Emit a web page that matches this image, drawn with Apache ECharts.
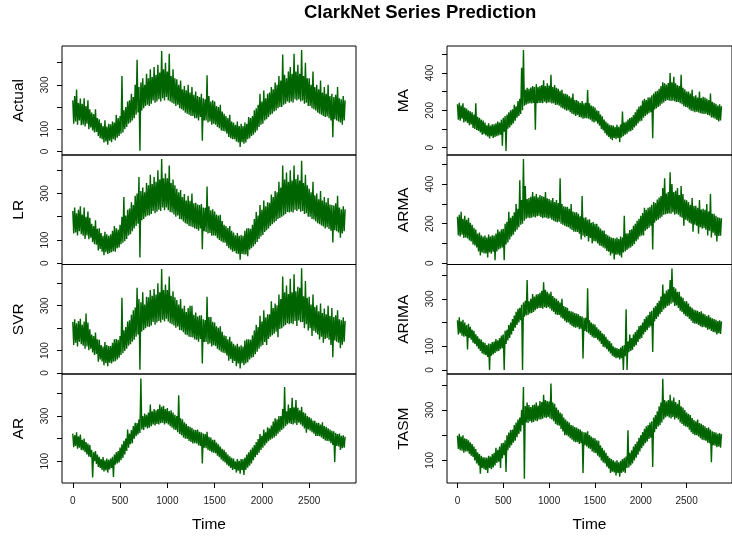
<!DOCTYPE html>
<html>
<head>
<meta charset="utf-8">
<script src="https://cdn.jsdelivr.net/npm/echarts@6/dist/echarts.min.js"></script>
<style>html,body{margin:0;padding:0;background:#fff}#c{width:732px;height:537px}</style>
</head>
<body>
<div id="c"></div>
<script>
// sampling step of the time axis (time units between consecutive values)
const STEP = 10;

const actual = [
230,125,250,135,279,120,218,140,238,118, 215,120,240,112,205,125,230,100,190,108,
175,95,168,85,190,88,150,70,145,60, 128,55,115,40,140,45,112,30,125,48,
122,42,135,55,130,50,165,62,150,70, 160,80,340,85,185,100,200,110,225,125,
230,130,260,140,245,150,300,165,413,175, 290,3,310,185,330,195,300,205,350,210,
330,205,370,215,335,230,380,220,345,225, 390,235,355,225,452,240,370,230,400,245,
360,230,440,225,340,220,370,215,330,205, 325,210,300,195,320,190,280,185,295,175,
275,170,300,165,265,160,290,160,255,150, 270,150,250,140,245,155,260,48,240,140,
235,140,343,130,250,135,225,120,230,125, 225,120,205,110,200,105,210,95,180,92,
170,90,160,80,150,65,165,60,135,55, 130,55,120,45,135,40,115,20,125,42,
115,35,130,40,125,55,155,60,150,70, 160,75,185,85,195,95,210,110,260,120,
225,125,275,140,240,145,260,155,265,165, 290,170,280,180,310,185,300,195,340,200,
320,200,437,210,345,215,330,225,360,220, 380,225,350,220,440,235,360,230,390,235,
350,225,457,230,340,215,400,220,330,205, 330,205,300,195,360,190,290,185,300,175,
280,170,320,165,265,160,290,155,260,158, 300,150,250,140,260,64,245,145,255,140,
290,135,240,130,235,120,250,140,230
];
const lr = [
225,128,240,132,215,120,230,138,245,125, 210,118,240,105,200,120,222,104,195,110,
170,92,160,82,185,80,148,55,150,62, 130,50,118,35,135,48,125,40,118,45,
125,48,140,52,160,50,150,65,145,68, 165,82,200,88,285,95,205,105,230,120,
235,125,262,138,250,150,290,160,300,170, 370,25,310,185,325,190,305,200,345,205,
335,205,380,212,340,225,370,215,350,222, 400,230,360,225,448,240,365,228,385,240,
365,228,420,220,345,218,360,210,335,200, 320,205,305,190,315,188,285,180,298,172,
270,168,290,160,268,158,300,155,258,150, 260,148,252,140,250,150,255,60,240,138,
238,135,330,128,245,130,228,118,232,120, 222,118,210,108,205,100,208,95,182,90,
165,88,160,75,152,65,160,58,140,50, 132,52,120,42,130,40,118,15,122,40,
118,38,140,38,150,30,150,58,148,65, 165,72,190,82,220,92,205,105,250,115,
230,122,270,135,245,142,262,150,260,160, 295,168,285,175,310,182,305,190,350,195,
325,200,420,205,360,212,390,220,350,218, 400,222,355,218,420,230,362,225,380,232,
355,222,440,225,345,212,380,215,335,200, 320,200,305,190,350,188,292,180,300,172,
275,168,310,162,270,158,285,150,262,155, 280,148,252,140,250,90,248,142,258,138,
290,132,240,110,232,128,245,138,232
];
const svr = [
228,125,240,135,222,118,232,140,242,128, 215,122,230,108,265,118,225,102,195,108,
172,92,165,80,180,85,150,50,148,60, 125,52,118,35,138,44,125,30,120,46,
120,42,135,50,150,52,152,60,148,68, 165,80,336,88,190,98,205,108,230,122,
235,128,260,140,280,148,292,162,380,172, 330,14,315,185,360,192,305,200,340,208,
338,205,370,212,345,228,375,215,350,225, 400,232,360,225,464,238,370,230,395,242,
370,230,430,222,345,218,365,212,338,202, 325,208,305,192,330,190,288,182,300,172,
272,168,290,162,300,160,300,158,260,150, 270,148,252,140,256,152,258,42,240,138,
236,138,340,128,250,132,250,118,228,124, 225,120,208,108,202,102,208,95,184,90,
168,88,165,78,150,55,162,62,140,45, 130,54,122,30,130,42,118,20,124,44,
118,35,145,42,150,48,150,60,148,68, 168,72,190,84,215,95,205,108,255,118,
230,125,280,138,248,125,262,152,262,162, 320,168,290,175,310,184,302,160,350,196,
330,200,430,208,360,214,390,222,352,218, 420,222,360,218,440,232,365,210,385,234,
380,226,467,228,342,200,410,218,335,190, 340,200,305,165,350,188,295,180,302,172,
275,150,310,162,268,135,288,152,262,156, 300,148,255,125,290,70,250,145,258,140,
280,135,240,110,235,126,248,140,232
];
const ar = [
222,162,215,168,228,155,210,160,218,150, 195,148,200,140,185,130,178,120,172,118,
150,28,140,100,145,88,130,75,120,70, 110,62,118,55,104,60,112,50,106,64,
112,70,120,31,130,85,140,90,145,95, 160,105,175,115,190,130,200,145,240,160,
222,175,238,180,255,200,270,210,268,218, 285,225,465,240,300,238,310,250,305,245,
315,248,350,255,320,262,330,258,325,265, 330,262,350,268,340,270,345,262,330,268,
335,262,322,255,325,248,315,240,305,238, 300,228,391,220,290,215,285,205,272,200,
265,198,255,190,252,185,248,178,240,180, 238,178,240,170,230,168,228,90,222,160,
220,158,230,150,208,145,205,140,195,138, 195,135,182,125,175,118,165,108,155,100,
150,95,140,85,130,78,122,70,115,62, 112,65,100,50,110,58,102,45,110,60,
110,40,116,62,130,72,140,80,150,90, 160,105,172,118,185,128,198,138,220,150,
212,160,240,170,228,180,250,188,245,195, 258,200,275,205,290,212,285,222,300,230,
300,238,330,245,428,255,320,262,350,268, 335,265,380,262,338,268,370,260,336,270,
325,262,340,255,316,245,312,226,300,240, 295,235,290,228,280,222,278,212,270,212,
270,210,262,205,272,198,255,192,252,190, 245,188,240,180,234,172,232,97,225,168,
220,165,222,150,212,158,215,160,208
];
const ma = [
232,150,240,145,225,155,238,135,215,140, 210,132,200,120,195,125,190,105,178,100,
237,95,165,90,160,82,150,70,145,72, 135,65,120,60,130,50,118,62,125,52,
125,58,130,62,140,65,135,70,150,10, 160,85,170,-17,178,102,190,108,200,120,
205,130,230,145,222,160,250,170,262,180, 428,200,522,225,310,230,320,235,315,238,
322,236,330,240,324,96,340,238,325,240, 330,240,335,238,360,246,330,238,345,242,
332,242,390,236,325,238,335,228,320,230, 315,225,305,215,310,210,290,205,288,198,
285,200,275,190,268,182,290,178,255,170, 255,175,248,165,240,162,250,155,238,158,
240,158,308,155,238,150,225,140,222,135, 215,140,200,128,196,118,178,100,168,92,
150,78,140,65,130,58,122,48,120,40, 118,52,110,46,122,52,112,30,124,55,
193,62,135,70,140,75,150,85,158,88, 162,95,175,108,190,118,205,130,220,140,
225,145,252,160,262,170,255,178,268,185, 270,190,280,51,290,205,300,210,305,218,
315,225,330,235,350,242,345,250,338,255, 346,252,400,250,350,252,380,248,344,245,
335,245,330,238,390,232,320,222,312,218, 300,215,300,205,290,198,310,195,275,190,
280,192,268,188,300,185,266,182,272,180, 268,182,262,175,255,172,290,162,245,160,
240,155,235,148,225,140,232,146,222
];
const arma = [
235,140,245,135,260,145,225,128,240,130, 220,125,230,115,205,110,195,95,180,90,
170,80,150,60,155,40,142,55,135,50, 140,50,130,30,145,55,135,48,142,58,
140,15,150,60,170,70,160,75,172,80, 175,15,200,95,210,105,260,120,230,135,
240,145,258,160,300,170,275,182,420,195, 320,200,527,215,390,225,325,230,330,228,
336,230,360,235,338,232,350,238,334,240, 345,234,340,228,336,232,360,230,328,225,
325,228,318,220,330,215,310,210,320,208, 305,210,430,200,300,195,288,190,285,185,
285,182,275,175,300,168,262,160,258,160, 258,158,250,150,238,120,340,140,230,132,
232,138,220,110,222,128,205,100,208,112, 200,110,200,100,186,90,175,88,165,80,
165,75,148,62,142,58,135,40,130,50, 128,20,125,44,130,45,122,40,135,30,
130,55,240,60,150,68,152,75,168,80, 172,88,190,98,200,112,215,120,225,135,
240,140,254,140,280,165,270,172,280,180, 285,190,296,70,310,205,305,215,322,220,
332,228,340,235,380,245,430,248,352,250, 360,252,460,250,400,258,360,245,366,250,
380,245,345,235,390,230,350,190,322,220, 318,215,310,205,296,200,330,160,290,195,
290,190,280,150,320,182,272,175,275,178, 270,170,300,140,262,165,350,130,250,155,
250,140,240,110,232,138,230,140,228
];
const arima = [
210,150,222,155,205,145,212,140,200,142, 190,86,195,135,182,128,170,115,165,110,
150,100,142,90,132,80,128,70,118,65, 115,62,105,55,112,0,110,60,118,65,
120,72,130,78,125,80,135,88,145,92, 150,0,165,110,170,125,190,135,200,150,
215,165,230,178,245,190,258,200,262,210, 275,0,285,225,292,230,380,232,290,238,
300,240,320,245,310,252,318,258,320,262, 326,262,334,258,370,265,338,262,330,265,
322,258,330,250,312,245,305,235,300,232, 292,232,285,222,300,216,270,208,265,200,
262,200,250,192,248,186,245,180,240,178, 238,180,235,172,228,174,226,48,220,165,
220,160,345,155,210,148,200,140,195,135, 192,135,180,128,172,120,165,110,155,98,
150,95,140,88,128,78,122,70,112,60, 100,55,95,50,92,52,88,44,95,50,
102,0,104,58,256,0,120,75,150,80, 135,85,150,98,160,105,170,118,185,130,
188,135,200,150,215,160,225,168,232,178, 245,185,250,76,262,205,270,215,282,225,
292,235,310,245,360,255,322,262,335,270, 340,272,380,280,428,285,350,270,344,272,
330,262,330,250,310,245,305,235,290,228, 290,225,280,215,268,208,262,198,255,195,
252,195,250,190,244,185,248,180,238,182, 235,178,228,170,232,172,222,165,218,160,
215,158,212,150,206,155,210,152,205
];
const tasm = [
198,145,205,140,195,138,200,130,188,135, 185,135,180,125,172,118,165,113,155,100,
145,88,132,80,125,47,118,70,112,65, 112,62,110,50,118,70,115,65,125,72,
130,80,150,90,142,95,155,70,168,108, 170,120,180,54,200,140,210,150,220,160,
222,170,240,178,250,192,262,205,270,215, 300,240,391,27,316,250,330,248,320,255,
312,250,320,252,322,258,330,255,318,262, 336,262,332,265,360,270,340,268,336,272,
334,266,405,262,330,255,325,245,310,240, 300,238,290,225,285,215,270,200,262,200,
255,195,250,188,240,182,238,175,232,172, 230,172,225,165,222,168,215,50,212,160,
210,155,215,148,200,145,195,135,190,130, 188,128,180,118,178,112,160,100,150,92,
140,88,130,75,118,68,110,50,105,55, 100,52,95,40,100,50,92,35,98,50,
105,55,110,50,115,70,219,72,130,80, 140,88,155,100,165,110,175,122,190,135,
200,148,212,158,225,168,235,175,240,185, 250,190,255,74,270,212,280,225,295,235,
315,240,330,250,424,262,340,270,335,275, 340,270,360,266,338,272,350,262,332,268,
325,262,340,250,315,245,310,238,300,235, 290,232,285,222,280,212,268,205,260,200,
255,200,262,195,248,188,245,182,240,180, 235,178,228,170,230,168,222,93,215,160,
212,158,210,152,205,155,208,150,204
];

const xTicks = [0, 500, 1000, 1500, 2000, 2500];
const xRange = [-114, 2995];

const panels = [
  {name: 'Actual', data: actual, col: 0, row: 0, range: [-16, 475], ticks: [0,100,200,300,400], labels: [0,100,300]},
  {name: 'LR',     data: lr,     col: 0, row: 1, range: [-5, 465],  ticks: [0,100,200,300,400], labels: [0,100,300]},
  {name: 'SVR',    data: svr,    col: 0, row: 2, range: [-4.5, 484],ticks: [0,100,200,300,400], labels: [0,100,300]},
  {name: 'AR',     data: ar,     col: 0, row: 3, range: [4, 485],   ticks: [100,200,300,400],   labels: [100,300]},
  {name: 'MA',     data: ma,     col: 1, row: 0, range: [-39, 544], ticks: [0,100,200,300,400,500], labels: [0,200,400]},
  {name: 'ARMA',   data: arma,   col: 1, row: 1, range: [-6, 547],  ticks: [0,100,200,300,400,500], labels: [0,200,400]},
  {name: 'ARIMA',  data: arima,  col: 1, row: 2, range: [-17, 445], ticks: [0,100,200,300,400], labels: [0,100,300]},
  {name: 'TASM',   data: tasm,   col: 1, row: 3, range: [10, 443],  ticks: [100,200,300,400],   labels: [100,300]}
];

const FONT = 'Liberation Sans, Arial, Helvetica, sans-serif';
const colLeft = [62, 447];
const colWidth = [294, 292];
const rowTop = [46, 155, 264.5, 374];
const rowHeight = [109, 109.5, 109.5, 109];

const grids = [], xAxes = [], yAxes = [], series = [];
panels.forEach((p, i) => {
  const bottom = p.row === 3;
  grids.push({
    left: colLeft[p.col], top: rowTop[p.row], width: colWidth[p.col], height: rowHeight[p.row],
    show: true, borderColor: '#000', borderWidth: 1, backgroundColor: 'transparent', containLabel: false
  });
  xAxes.push({
    type: 'value', gridIndex: i, min: xRange[0], max: xRange[1], position: 'bottom',
    axisLine: {show: false, onZero: false},
    splitLine: {show: false},
    axisTick: {show: bottom, customValues: xTicks, length: 5, lineStyle: {color: '#000', width: 1}},
    axisLabel: {show: bottom, customValues: xTicks, formatter: v => String(v), fontSize: 10, margin: 13, color: '#222', fontFamily: FONT},
    name: bottom ? 'Time' : '', nameLocation: 'middle', nameGap: 34,
    nameTextStyle: {fontSize: 15.5, color: '#000', fontFamily: FONT}
  });
  yAxes.push({
    type: 'value', gridIndex: i, min: p.range[0], max: p.range[1], position: 'left',
    axisLine: {show: false, onZero: false},
    splitLine: {show: false},
    axisTick: {show: true, customValues: p.ticks, length: 5, lineStyle: {color: '#000', width: 1}},
    axisLabel: {customValues: p.labels, formatter: v => String(v), rotate: 90, fontSize: 10, margin: 12, color: '#222', fontFamily: FONT},
    name: p.name, nameLocation: 'middle', nameRotate: 90, nameGap: 35,
    nameTextStyle: {fontSize: 15.5, color: '#000', fontFamily: FONT}
  });
  series.push({
    type: 'line', xAxisIndex: i, yAxisIndex: i,
    data: p.data.map((v, j) => [j * STEP, v]),
    showSymbol: false, symbol: 'none', sampling: false,
    lineStyle: {color: '#006400', width: 1.4}, z: 1
  });
});

const chart = echarts.init(document.getElementById('c'), null, {renderer: 'canvas'});
chart.setOption({
  animation: false,
  backgroundColor: '#fff',
  title: {
    text: 'ClarkNet Series Prediction', left: 304, top: 3, padding: 0,
    textStyle: {fontSize: 18.5, fontWeight: 'bold', color: '#000', fontFamily: FONT}
  },
  grid: grids,
  xAxis: xAxes,
  yAxis: yAxes,
  series: series
});
</script>
</body>
</html>
